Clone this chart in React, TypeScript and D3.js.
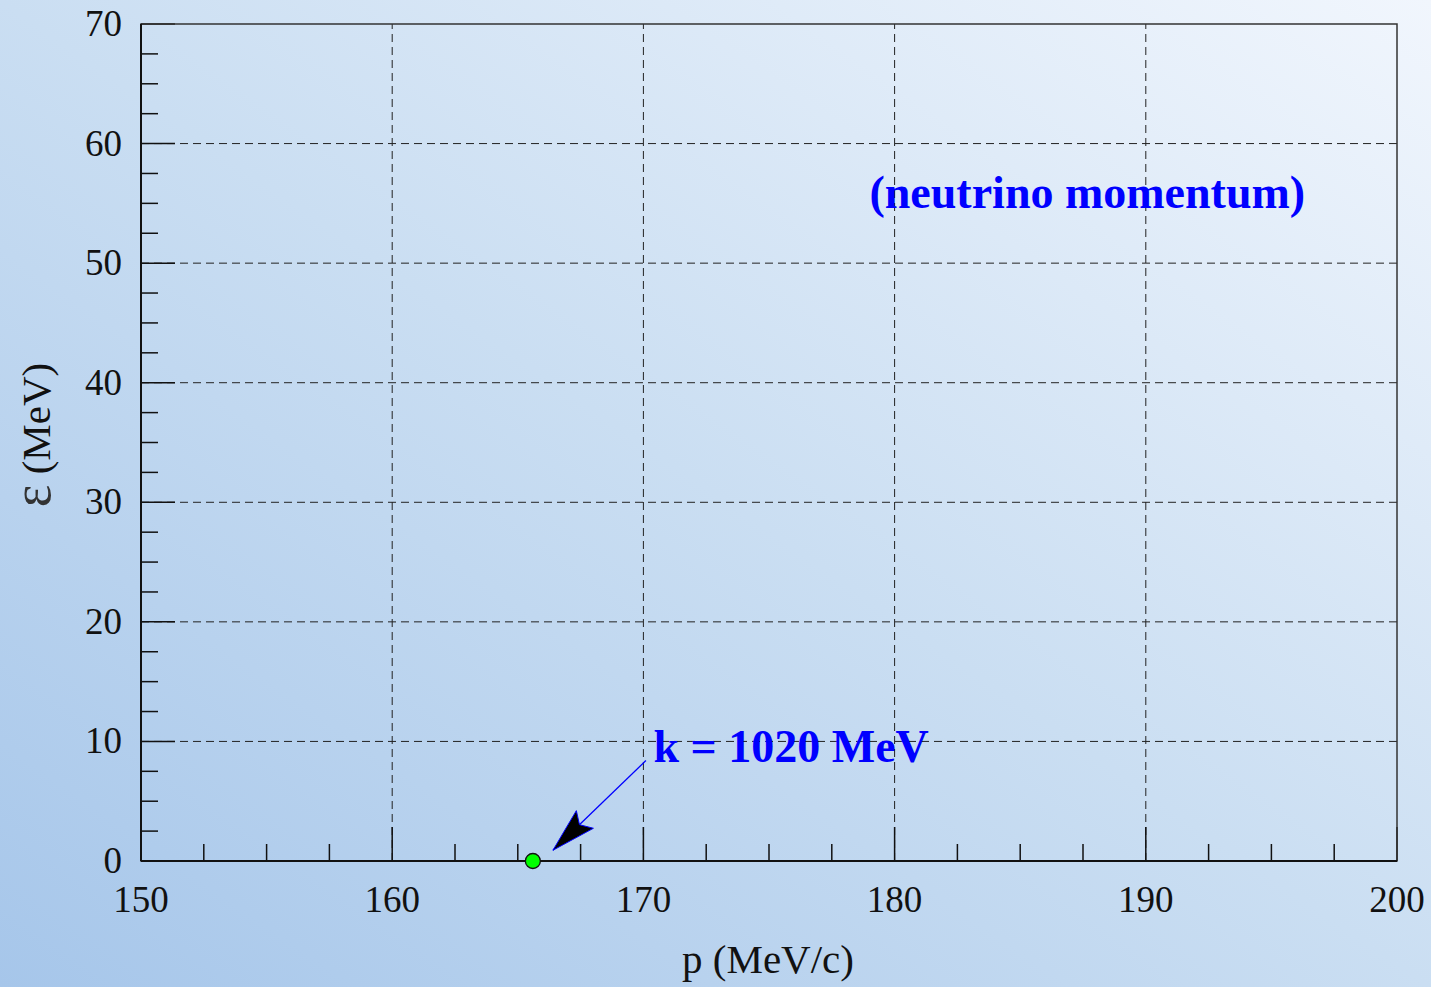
import React, { useEffect, useRef } from 'react';
import * as d3 from 'd3';

const W = 1431;
const H = 987;

const xTicks = [150, 160, 170, 180, 190, 200];
const yTicks = [0, 10, 20, 30, 40, 50, 60, 70];
const points = [{ p: 165.6, e: 0 }];
const arrowFrom = { p: 170.1, e: 8.4 };
const arrowTo = { p: 166.4, e: 0.9 };
const labelK = { p: 170.4, e: 8.3, text: 'k = 1020 MeV' };
const labelNu = { p: 179.0, e: 54.6, text: '(neutrino momentum)' };

export default function App() {
    const ref = useRef<SVGSVGElement>(null);

    useEffect(() => {
        const svg = d3.select(ref.current);
        svg.selectAll('*').remove();

        const m = { left: 141, right: 1397, top: 24, bottom: 861 };
        const x = d3.scaleLinear().domain([150, 200]).range([m.left, m.right]);
        const y = d3.scaleLinear().domain([0, 70]).range([m.bottom, m.top]);

        // background
        const defs = svg.append('defs');
        const grad = defs.append('linearGradient')
            .attr('id', 'bg')
            .attr('x1', '0').attr('y1', '1').attr('x2', '1').attr('y2', '0');
        grad.append('stop').attr('offset', '0').attr('stop-color', '#a6c6ea');
        grad.append('stop').attr('offset', '0.5').attr('stop-color', '#cadef2');
        grad.append('stop').attr('offset', '1').attr('stop-color', '#f1f6fd');
        svg.append('rect').attr('width', W).attr('height', H).attr('fill', 'url(#bg)');

        // grid
        const grid = svg.append('g')
            .attr('stroke', '#222').attr('stroke-width', 1).attr('stroke-dasharray', '8,5');
        xTicks.slice(1, -1).forEach(t => {
            grid.append('line')
                .attr('x1', x(t)).attr('x2', x(t))
                .attr('y1', m.bottom).attr('y2', m.top);
        });
        yTicks.slice(1, -1).forEach(t => {
            grid.append('line')
                .attr('x1', m.left).attr('x2', m.right)
                .attr('y1', y(t)).attr('y2', y(t));
        });

        // minor ticks
        const ticks = svg.append('g').attr('stroke', '#111').attr('stroke-width', 1.5);
        d3.range(150, 200.01, 2.5).forEach(t => {
            const major = t % 10 === 0;
            ticks.append('line')
                .attr('x1', x(t)).attr('x2', x(t))
                .attr('y1', m.bottom).attr('y2', m.bottom - (major ? 34 : 17));
        });
        d3.range(0, 70.01, 2.5).forEach(t => {
            const major = t % 10 === 0;
            ticks.append('line')
                .attr('x1', m.left).attr('x2', m.left + (major ? 34 : 17))
                .attr('y1', y(t)).attr('y2', y(t));
        });

        // frame
        svg.append('rect')
            .attr('x', m.left).attr('y', m.top)
            .attr('width', m.right - m.left).attr('height', m.bottom - m.top)
            .attr('fill', 'none').attr('stroke', '#333').attr('stroke-width', 1.5);
        svg.append('line')
            .attr('x1', m.left).attr('x2', m.left).attr('y1', m.top).attr('y2', m.bottom)
            .attr('stroke', '#111').attr('stroke-width', 2);
        svg.append('line')
            .attr('x1', m.left).attr('x2', m.right).attr('y1', m.bottom).attr('y2', m.bottom)
            .attr('stroke', '#111').attr('stroke-width', 2);

        const font = '"Liberation Serif", "Times New Roman", serif';

        // tick labels
        svg.append('g').selectAll('text').data(xTicks).join('text')
            .attr('x', d => x(d)).attr('y', 912)
            .attr('text-anchor', 'middle')
            .attr('font-family', font).attr('font-size', 37).attr('fill', '#111')
            .text(d => d);
        svg.append('g').selectAll('text').data(yTicks).join('text')
            .attr('x', 122).attr('y', d => y(d) + 12)
            .attr('text-anchor', 'end')
            .attr('font-family', font).attr('font-size', 37).attr('fill', '#111')
            .text(d => d);

        // axis titles
        svg.append('text')
            .attr('x', 768).attr('y', 973)
            .attr('text-anchor', 'middle')
            .attr('font-family', font).attr('font-size', 41).attr('fill', '#111')
            .text('p (MeV/c)');
        const yt = svg.append('text')
            .attr('transform', 'translate(50,435) rotate(-90)')
            .attr('text-anchor', 'middle')
            .attr('font-family', font).attr('font-size', 41).attr('fill', '#111');
        yt.append('tspan').attr('font-size', 54).attr('fill', '#333').text('\u03b5');
        yt.append('tspan').text('  (MeV)');

        // arrow
        const ax1 = x(arrowFrom.p), ay1 = y(arrowFrom.e);
        const ax2 = x(arrowTo.p), ay2 = y(arrowTo.e);
        svg.append('line')
            .attr('x1', ax1).attr('y1', ay1).attr('x2', ax2).attr('y2', ay2)
            .attr('stroke', '#0000ff').attr('stroke-width', 1.3);
        const ang = Math.atan2(ay2 - ay1, ax2 - ax1);
        const len = 46, half = 0.27;
        const p1 = [ax2 - len * Math.cos(ang - half), ay2 - len * Math.sin(ang - half)];
        const p2 = [ax2 - len * Math.cos(ang + half), ay2 - len * Math.sin(ang + half)];
        const back = [ax2 - len * 0.8 * Math.cos(ang), ay2 - len * 0.8 * Math.sin(ang)];
        svg.append('path')
            .attr('d', `M${ax2},${ay2}L${p1[0]},${p1[1]}L${back[0]},${back[1]}L${p2[0]},${p2[1]}Z`)
            .attr('fill', '#000').attr('stroke', '#0000ff').attr('stroke-width', 1);

        // point
        svg.append('g').selectAll('circle').data(points).join('circle')
            .attr('cx', d => x(d.p)).attr('cy', d => y(d.e)).attr('r', 7.5)
            .attr('fill', '#00ff00').attr('stroke', '#111').attr('stroke-width', 1.3);

        // labels
        [labelK, labelNu].forEach(l => {
            svg.append('text')
                .attr('x', x(l.p)).attr('y', y(l.e))
                .attr('font-family', font).attr('font-size', 46).attr('font-weight', 'bold')
                .attr('fill', '#0000ff')
                .text(l.text);
        });
    }, []);

    return (
        <svg
            ref={ref}
            width={W}
            height={H}
            style={{ position: 'absolute', left: 0, top: 0, display: 'block' }}
        />
    );
}
